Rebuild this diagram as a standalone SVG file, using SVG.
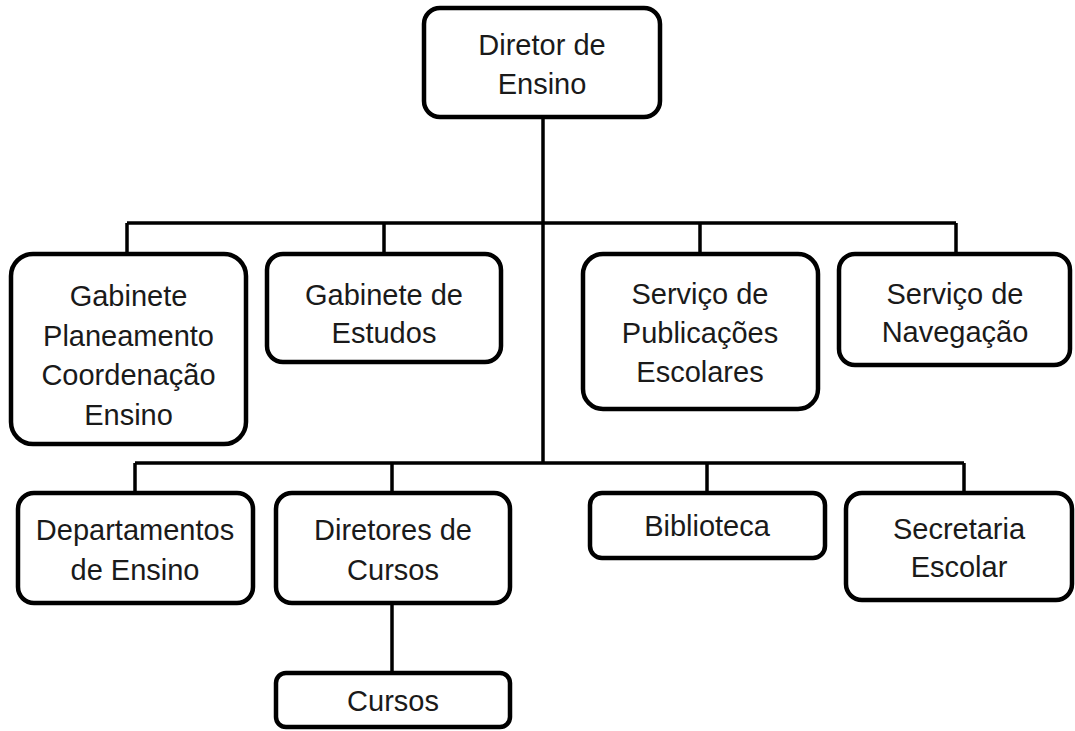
<svg xmlns="http://www.w3.org/2000/svg" width="1075" height="731" viewBox="0 0 1075 731">
<style>
.box{fill:#ffffff;stroke:#000;stroke-width:4.5}
.lbl{font-family:"Liberation Sans",Arial,sans-serif;font-size:29px;fill:#1a1a1a;text-anchor:middle}
.ln{stroke:#000;stroke-width:3.5;fill:none}
</style>
<rect width="1075" height="731" fill="#ffffff"/>
<g id="connectors">
<path class="ln" d="M543 117V463"/>
<path class="ln" d="M127 223H956M127 223V254M384 223V254M700 223V254M956 223V254"/>
<path class="ln" d="M135 463H964M135 463V493M392 463V493M707 463V493M964 463V493"/>
<path class="ln" d="M392 603V673"/>
</g>
<g id="diretor-ensino"><rect class="box" x="424" y="8" width="236" height="109" rx="16"/><text class="lbl" x="542" y="55">Diretor de</text><text class="lbl" x="542" y="94">Ensino</text></g>
<g id="gabinete-planeamento"><rect class="box" x="11" y="254" width="235" height="190" rx="22"/><text class="lbl" x="128.5" y="306">Gabinete</text><text class="lbl" x="128.5" y="346">Planeamento</text><text class="lbl" x="128.5" y="385">Coordenação</text><text class="lbl" x="128.5" y="425">Ensino</text></g>
<g id="gabinete-estudos"><rect class="box" x="267" y="254" width="234" height="108" rx="16"/><text class="lbl" x="384" y="305">Gabinete de</text><text class="lbl" x="384" y="343">Estudos</text></g>
<g id="servico-publicacoes"><rect class="box" x="583" y="254" width="235" height="155" rx="20"/><text class="lbl" x="700" y="304">Serviço de</text><text class="lbl" x="700" y="343">Publicações</text><text class="lbl" x="700" y="382">Escolares</text></g>
<g id="servico-navegacao"><rect class="box" x="839" y="254" width="231" height="111" rx="16"/><text class="lbl" x="955" y="304">Serviço de</text><text class="lbl" x="955" y="342">Navegação</text></g>
<g id="departamentos-ensino"><rect class="box" x="18" y="493" width="235" height="110" rx="16"/><text class="lbl" x="135" y="540">Departamentos</text><text class="lbl" x="135" y="580">de Ensino</text></g>
<g id="diretores-cursos"><rect class="box" x="276" y="493" width="234" height="110" rx="16"/><text class="lbl" x="393" y="540">Diretores de</text><text class="lbl" x="393" y="580">Cursos</text></g>
<g id="biblioteca"><rect class="box" x="590" y="493" width="235" height="65" rx="12"/><text class="lbl" x="707" y="536">Biblioteca</text></g>
<g id="secretaria-escolar"><rect class="box" x="846" y="493" width="226" height="107" rx="16"/><text class="lbl" x="959" y="539">Secretaria</text><text class="lbl" x="959" y="577">Escolar</text></g>
<g id="cursos"><rect class="box" x="276" y="673" width="234" height="54" rx="10"/><text class="lbl" x="393" y="711">Cursos</text></g>
</svg>
